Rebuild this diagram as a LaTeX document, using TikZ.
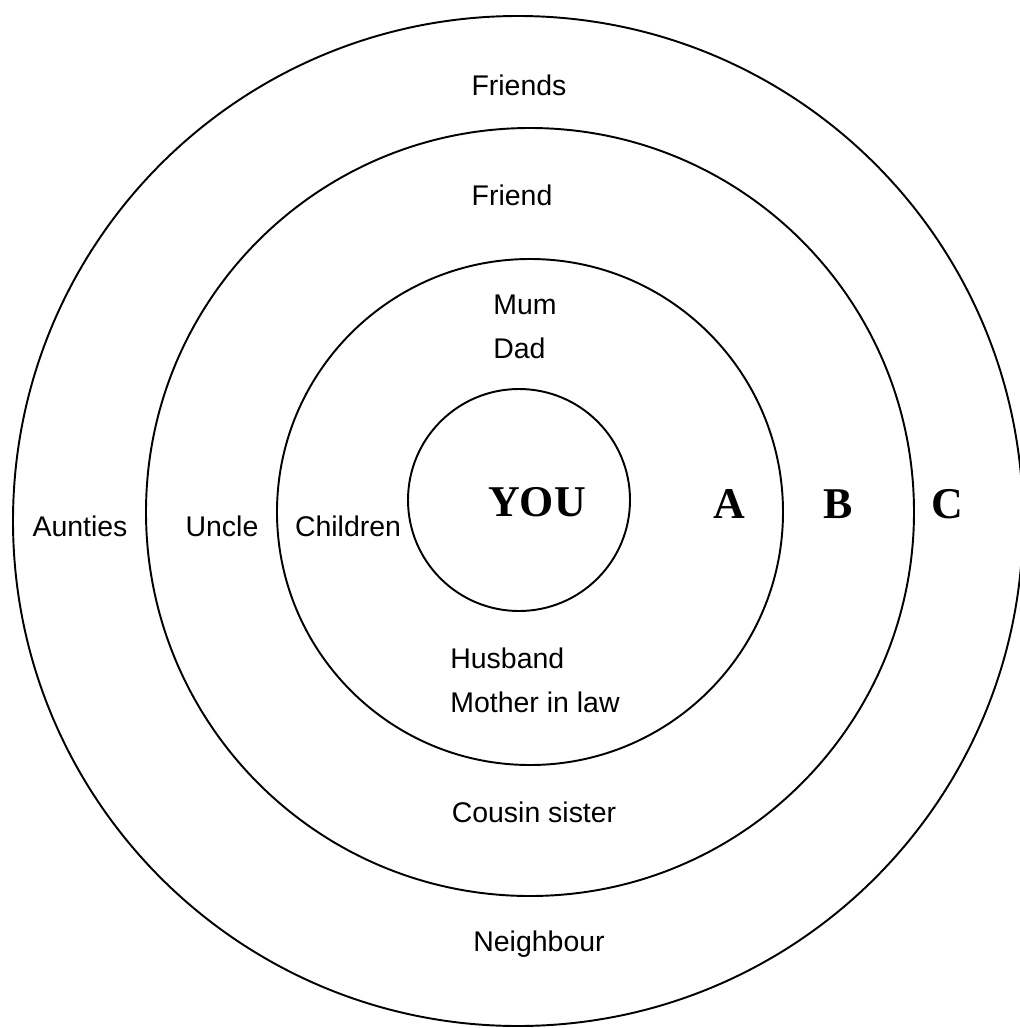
\documentclass[tikz,border=0pt]{standalone}
\usepackage{fontspec}
\setmainfont{Liberation Sans}
\newfontfamily\ringfont{Liberation Serif}
\usepackage{tikz}

\begin{document}
\begin{tikzpicture}[
    x=0.02cm, y=-0.02cm,
    ring/.style={draw, line width=1.1pt},
    member/.style={font=\fontsize{16.2}{25}\selectfont, align=left, inner sep=0pt},
    level/.style={font=\fontsize{25}{25}\ringfont\bfseries, inner sep=0pt}
]
\useasboundingbox (0,0) rectangle (1019,1028);
\fill[white] (0,0) rectangle (1019,1028);

\draw[ring] (518,521) circle [radius=505];
\draw[ring] (530,512) circle [radius=384];
\draw[ring] (530,512) circle [radius=253];
\draw[ring] (519,500) circle [radius=111];

\node[level] (you) at (537,502) {YOU};
\node[level] (ringA) at (729,504) {A};
\node[level] (ringB) at (838,504) {B};
\node[level] (ringC) at (947,504) {C};

\node[member] (friends) at (519,85) {Friends};
\node[member] (friend) at (512,195) {Friend};
\node[member, anchor=west] (parents) at (493,327) {Mum\\Dad};
\node[member] (children) at (348,526) {Children};
\node[member] (uncle) at (222,526) {Uncle};
\node[member] (aunties) at (80,526) {Aunties};
\node[member, anchor=west] (inlaws) at (450,680) {Husband\\Mother in law};
\node[member] (cousin) at (534,812) {Cousin sister};
\node[member] (neighbour) at (539,944) {Neighbour};
\end{tikzpicture}
\end{document}
